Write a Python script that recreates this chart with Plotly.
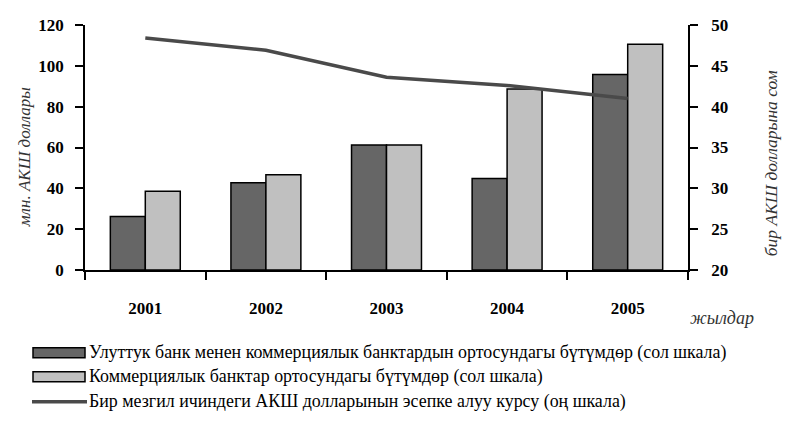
import plotly.graph_objects as go

years = ["2001", "2002", "2003", "2004", "2005"]
nbank_deals = [26.2, 42.7, 61.2, 44.8, 95.7]
interbank_deals = [38.6, 46.6, 61.2, 88.7, 110.6]
usd_rate = [48.4, 46.9, 43.6, 42.6, 41.0]

names = [
    "Улуттук банк менен коммерциялык банктардын ортосундагы бүтүмдөр (сол шкала)",
    "Коммерциялык банктар ортосундагы бүтүмдөр (сол шкала)",
    "Бир мезгил ичиндеги АКШ долларынын эсепке алуу курсу (оң шкала)",
]
left_title = "млн. АКШ доллары"
right_title = "бир АКШ долларына сом"
x_title = "жылдар"

W, H = 785, 423
L, R, T, B = 85, 688, 24.5, 270

def px(x):
    return (x - L) / (R - L)

def py(y):
    return (B - y) / (B - T)

dark = "#666666"
light = "#c0c0c0"
line_c = "#4a4a4a"

serif = "Liberation Serif"
tick_font = dict(family=serif, size=17, color="black", weight="bold")

fig = go.Figure()
fig.add_trace(go.Bar(x=years, y=nbank_deals, name=names[0], marker=dict(color=dark, line=dict(color="black", width=1.5))))
fig.add_trace(go.Bar(x=years, y=interbank_deals, name=names[1], marker=dict(color=light, line=dict(color="black", width=1.5))))
fig.add_trace(go.Scatter(x=years, y=usd_rate, name=names[2], yaxis="y2", mode="lines", line=dict(color=line_c, width=3.5)))

shapes = []
annotations = []
rows = [353, 377, 402]
for i, (yc, nm) in enumerate(zip(rows, names)):
    if i < 2:
        shapes.append(dict(type="rect", xref="paper", yref="paper",
                           x0=px(33), x1=px(85), y0=py(yc - 5), y1=py(yc + 5),
                           fillcolor=[dark, light][i], line=dict(color="black", width=1.5)))
    else:
        shapes.append(dict(type="line", xref="paper", yref="paper",
                           x0=px(32), x1=px(87), y0=py(yc), y1=py(yc),
                           line=dict(color=line_c, width=3.5)))
    annotations.append(dict(text=nm, xref="paper", yref="paper", x=px(87), y=py(yc),
                            xanchor="left", yanchor="middle", showarrow=False,
                            font=dict(family=serif, size=17.9, color="black")))

annotations.append(dict(text="<i>" + left_title + "</i>", xref="paper", yref="paper", x=px(24), y=py(157),
                        textangle=-90, showarrow=False, xanchor="center", yanchor="middle",
                        font=dict(family=serif, size=17, color="#333333")))
annotations.append(dict(text="<i>" + right_title + "</i>", xref="paper", yref="paper", x=px(771), y=py(163),
                        textangle=-90, showarrow=False, xanchor="center", yanchor="middle",
                        font=dict(family=serif, size=17.5, color="#333333")))
annotations.append(dict(text="<i>" + x_title + "</i>", xref="paper", yref="paper", x=px(722), y=py(318),
                        showarrow=False, xanchor="center", yanchor="middle",
                        font=dict(family=serif, size=18, color="#333333")))

axis_common = dict(showline=True, linecolor="black", linewidth=1.5,
                   ticks="outside", ticklen=8, tickwidth=1.5, tickcolor="black",
                   showgrid=False, zeroline=False, tickfont=tick_font, automargin=False)

fig.update_layout(
    width=W, height=H,
    margin=dict(l=L, r=W - R, t=T, b=H - B, pad=0, autoexpand=False),
    paper_bgcolor="white", plot_bgcolor="white",
    barmode="group", bargap=0.42, bargroupgap=0,
    showlegend=False,
    shapes=shapes, annotations=annotations,
    xaxis=dict(type="category", tickson="boundaries", ticklabelstandoff=22, **axis_common),
    yaxis=dict(range=[0, 120], dtick=20, ticklabelstandoff=8, **axis_common),
    yaxis2=dict(range=[20, 50], dtick=5, overlaying="y", side="right", ticklabelstandoff=10, **axis_common),
)

fig.write_html("out.html", config={"displayModeBar": False},
               post_script="document.body.style.margin='0';document.body.style.overflow='hidden';")
